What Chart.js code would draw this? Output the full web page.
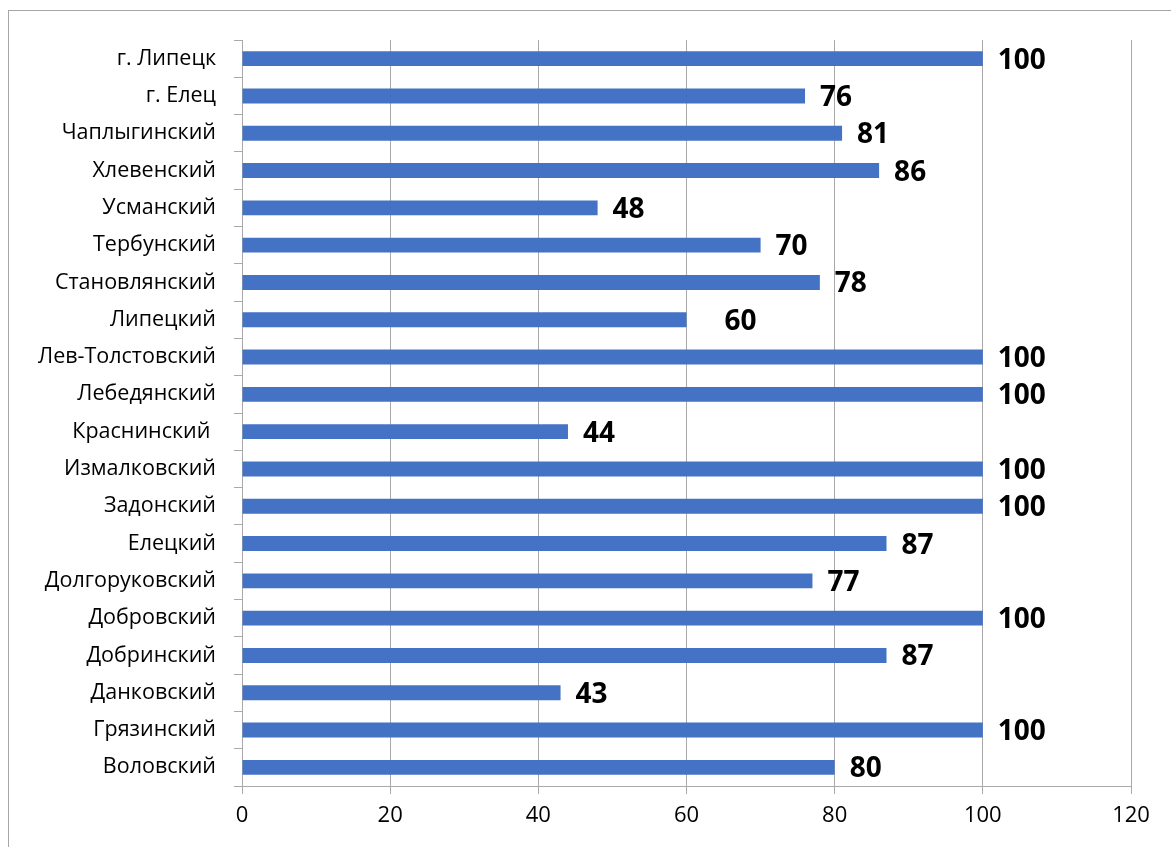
<!DOCTYPE html>
<html>
<head>
<meta charset="utf-8">
<script src="https://cdn.jsdelivr.net/npm/chart.js@4/dist/chart.umd.min.js"></script>
<style>
  html, body { margin: 0; padding: 0; background: #fff; }
  #wrap { position: relative; width: 1171px; height: 847px; }
  #frame { position: absolute; left: 8px; top: 10px; right: -2px; bottom: -2px;
           border-left: 1px solid #a6a6a6; border-top: 1px solid #a6a6a6; }
  canvas { position: absolute; left: 0; top: 0; }
</style>
</head>
<body>
<div id="wrap">
  <div id="frame"></div>
  <canvas id="chart" width="1171" height="847"></canvas>
</div>
<script>
// Districts, top to bottom as in the picture
const districts = [
  "г. Липецк", "г. Елец", "Чаплыгинский", "Хлевенский", "Усманский",
  "Тербунский", "Становлянский", "Липецкий", "Лев-Толстовский", "Лебедянский",
  "Краснинский ", "Измалковский", "Задонский", "Елецкий", "Долгоруковский",
  "Добровский", "Добринский", "Данковский", "Грязинский", "Воловский",
]
const values = [
  100, 76, 81, 86, 48,
  70, 78, 60, 100, 100,
  44, 100, 100, 87, 77,
  100, 87, 43, 100, 80,
]
const xTicks = [0, 20, 40, 60, 80, 100, 120]

const FONT = "'Open Sans', sans-serif"
const GRID = "#a9a9a9"

// value labels to the right of each bar (the "60" one sits further out)
const valueLabels = {
  id: "valueLabels",
  afterDatasetsDraw(chart) {
    const { ctx } = chart
    const meta = chart.getDatasetMeta(0)
    ctx.save()
    ctx.font = `bold 28px ${FONT}`
    ctx.fillStyle = "#000"
    ctx.textAlign = "left"
    ctx.textBaseline = "middle"
    meta.data.forEach((bar, i) => {
      const nudge = i === 7 ? 38 : 15
      ctx.fillText(String(values[i]), bar.x + nudge, bar.y + 2)
    })
    ctx.restore()
  },
}

new Chart(document.getElementById("chart"), {
  type: "bar",
  data: {
    labels: districts,
    datasets: [{
      data: values,
      backgroundColor: "#4472C4",
      borderWidth: 0,
      barPercentage: 0.4,
      categoryPercentage: 1,
    }],
  },
  options: {
    indexAxis: "y",
    responsive: false,
    animation: false,
    layout: { padding: { top: 40, right: 40, left: 0, bottom: 0 } },
    plugins: {
      legend: { display: false },
      tooltip: { enabled: false },
    },
    scales: {
      x: {
        min: 0,
        max: 120,
        afterBuildTicks: (s) => { s.ticks = xTicks.map(v => ({ value: v })) },
        afterFit: (s) => { s.height = 61 },
        grid: { color: GRID, lineWidth: 1, tickLength: 8, tickColor: GRID },
        border: { color: GRID },
        ticks: {
          color: "#000",
          padding: 9,
          font: { family: FONT, size: 22 },
        },
      },
      y: {
        afterFit: (s) => { s.width = 242 },
        grid: { drawOnChartArea: false, offset: true, tickLength: 8, color: GRID },
        border: { color: GRID },
        ticks: {
          color: "#000",
          padding: 18,
          font: { family: FONT, size: 21.5 },
          autoSkip: false,
        },
      },
    },
  },
  plugins: [valueLabels],
})
</script>
</body>
</html>
